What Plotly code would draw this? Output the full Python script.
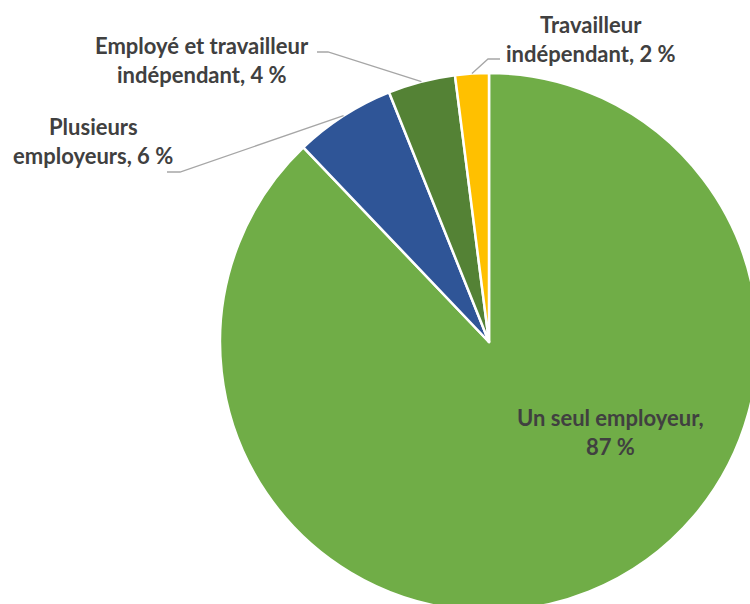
import math
import plotly.graph_objects as go

# ---- data ----
labels = ["Un seul employeur", "Plusieurs employeurs",
          "Employé et travailleur indépendant", "Travailleur indépendant"]
values = [87, 6, 4, 2]
label_lines = [["Un seul employeur,", "{v} %"],
               ["Plusieurs", "employeurs, {v} %"],
               ["Employé et travailleur", "indépendant, {v} %"],
               ["Travailleur", "indépendant, {v} %"]]
colors = ["#70AD47", "#2F5597", "#548235", "#FFC000"]

# ---- geometry (pixels) ----
W, H = 790, 640
CX, CY, R = 489, 342, 269

def px2paper(x, y):
    return x / W, 1 - y / H

# label block centers (pixels) and leader elbows
label_pos = [(610, 432), (93, 141), (202, 60), (591, 39)]
elbows = [None, [(180, 172), (167, 172)], [(328, 52), (317, 52)], [(488, 59), (500, 59)]]

fig = go.Figure(go.Pie(
    labels=labels, values=values, sort=False, direction="clockwise",
    rotation=0, textinfo="none", hoverinfo="label+percent",
    marker=dict(colors=colors, line=dict(color="white", width=2.5)),
    domain=dict(x=[(CX - R) / W, (CX + R) / W], y=[1 - (CY + R) / H, 1 - (CY - R) / H]),
    showlegend=False,
))

total = sum(values)
cum = 0
shapes = []
annotations = []
for i, v in enumerate(values):
    mid = (cum + v / 2) / total * 2 * math.pi
    cum += v
    ex, ey = CX + R * math.sin(mid), CY - R * math.cos(mid)
    if elbows[i]:
        pts = [(ex, ey)] + elbows[i]
        path = "M " + " L ".join(f"{px2paper(x, y)[0]:.5f},{px2paper(x, y)[1]:.5f}" for x, y in pts)
        shapes.append(dict(type="path", xref="paper", yref="paper", path=path,
                           line=dict(color="#A6A6A6", width=1.3)))
    lx, ly = label_pos[i]
    lines = [s.format(v=v) for s in label_lines[i]]
    spacing = 28.5
    for j, t in enumerate(lines):
        yy = ly + (j - (len(lines) - 1) / 2) * spacing
        x0, y0 = px2paper(lx, yy)
        annotations.append(dict(x=x0, y=y0, xref="paper", yref="paper", text=t,
                                showarrow=False, xanchor="center", yanchor="middle",
                                font=dict(family="Lato", size=22, color="#404040", weight="bold")))

fig.update_layout(width=W, height=H, margin=dict(l=0, r=0, t=0, b=0),
                  paper_bgcolor="white", plot_bgcolor="white",
                  shapes=shapes, annotations=annotations)

fig.write_html("out.html", config={"displayModeBar": False},
               post_script="document.body.style.margin='0';document.body.style.overflow='hidden';")
